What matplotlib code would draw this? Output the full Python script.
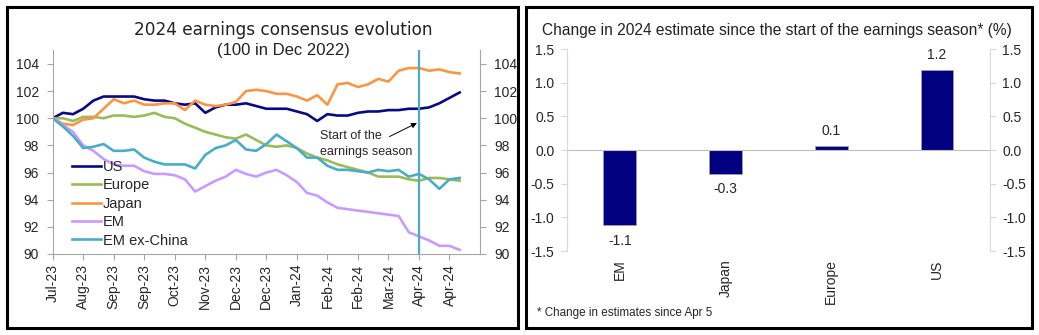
import numpy as np
import matplotlib
matplotlib.use("Agg")
import matplotlib.pyplot as plt
from matplotlib.patches import Rectangle

plt.rcParams['font.family'] = ['Liberation Sans', 'DejaVu Sans']

# weekly index values (100 in Dec 2022)
us = [100.0, 100.4, 100.3, 100.7, 101.3, 101.6, 101.6, 101.6, 101.6, 101.4,
      101.3, 101.3, 101.1, 101.0, 101.1, 100.4, 100.8, 101.0, 101.0, 101.1,
      100.9, 100.7, 100.7, 100.7, 100.5, 100.3, 99.8, 100.3, 100.2, 100.2,
      100.4, 100.5, 100.5, 100.6, 100.6, 100.7, 100.7, 100.8, 101.1, 101.5, 101.9]
europe = [100.0, 100.0, 99.8, 100.1, 100.1, 100.0, 100.2, 100.2, 100.1, 100.2,
          100.4, 100.1, 100.0, 99.6, 99.3, 99.0, 98.8, 98.6, 98.5, 98.8,
          98.4, 98.0, 97.9, 98.0, 97.8, 97.4, 97.1, 96.9, 96.6, 96.4,
          96.2, 96.0, 95.7, 95.7, 95.7, 95.5, 95.4, 95.6, 95.6, 95.5, 95.4]
japan = [100.0, 99.6, 99.5, 99.9, 100.0, 100.7, 101.4, 101.1, 101.3, 101.0,
         101.0, 101.1, 101.1, 100.6, 101.3, 101.0, 100.9, 101.0, 101.2, 102.0,
         102.1, 102.0, 101.8, 101.8, 101.6, 101.3, 101.7, 101.0, 102.5, 102.6,
         102.3, 102.5, 102.9, 102.7, 103.5, 103.7, 103.7, 103.5, 103.6, 103.4, 103.3]
em = [100.0, 99.5, 99.0, 98.0, 97.6, 97.0, 96.6, 96.5, 96.5, 96.1,
      95.9, 95.9, 95.8, 95.5, 94.6, 95.0, 95.4, 95.7, 96.2, 95.9,
      95.7, 96.0, 96.2, 95.8, 95.3, 94.5, 94.3, 93.8, 93.4, 93.3,
      93.2, 93.1, 93.0, 92.9, 92.8, 91.6, 91.3, 91.0, 90.6, 90.6, 90.3]
em_ex_china = [100.0, 99.4, 98.7, 97.8, 97.9, 98.1, 97.6, 97.6, 97.7, 97.1,
               96.8, 96.6, 96.6, 96.6, 96.3, 97.3, 97.8, 98.0, 98.4, 97.7,
               97.6, 98.1, 98.8, 98.3, 97.8, 97.1, 97.1, 96.5, 96.2, 96.2,
               96.1, 96.0, 96.2, 96.1, 96.2, 95.7, 95.9, 95.5, 94.8, 95.5, 95.6]
date_labels = ['Jul-23', 'Aug-23', 'Sep-23', 'Sep-23', 'Oct-23', 'Nov-23', 'Dec-23',
               'Dec-23', 'Jan-24', 'Feb-24', 'Feb-24', 'Mar-24', 'Apr-24', 'Apr-24']
season_start = 36  # week index of Apr 5

# change since start of the season
regions = ['EM', 'Japan', 'Europe', 'US']
change = [-1.12, -0.35, 0.06, 1.19]
change_labels = ['-1.1', '-0.3', '0.1', '1.2']

grey = '#A6A6A6'
txt = '#262626'

fig = plt.figure(figsize=(10.39, 3.35), dpi=100)

# frames round the two panels
fig.patches.append(Rectangle((7/1039, 7/335), 511/1039, 321/335, transform=fig.transFigure,
                             fill=False, edgecolor='black', linewidth=2.2))
fig.patches.append(Rectangle((526/1039, 7/335), 506/1039, 321/335, transform=fig.transFigure,
                             fill=False, edgecolor='black', linewidth=2.2))

# ---- left panel
ax = fig.add_axes([0.0507, 0.2418, 0.4113, 0.6078])
x = np.arange(len(us))
series = [(us, 'US', '#0A0A80'), (europe, 'Europe', '#9BBB59'), (japan, 'Japan', '#F79646'),
          (em, 'EM', '#C99BFF'), (em_ex_china, 'EM ex-China', '#4BACC6')]
for vals, name, col in series:
    ax.plot(x, vals, color=col, linewidth=1.9, label=name)
ax.axvline(season_start, color='#4BACC6', linewidth=1.6)

ax.set_xlim(0, 42)
ax.set_ylim(90, 105)
ax.set_yticks(np.arange(90, 105, 2))
ax.set_xticks(np.arange(0, 3 * len(date_labels), 3))
ax.set_xticklabels(date_labels, rotation=90)
ax.tick_params(axis='y', which='both', left=True, right=True, labelleft=True, labelright=True,
               direction='out', length=4, color=grey, labelsize=10, labelcolor=txt, pad=6)
ax.tick_params(axis='x', direction='out', length=4, color=grey, labelsize=10, labelcolor=txt, pad=3)
ax.spines['top'].set_visible(False)
for s in ['left', 'right', 'bottom']:
    ax.spines[s].set_color(grey)

ax.text(26.3, 98.7, 'Start of the', fontsize=9, color=txt, va='center', ha='left')
ax.text(26.3, 97.5, 'earnings season', fontsize=9, color=txt, va='center', ha='left')
ax.annotate('', xy=(35.8, 99.65), xytext=(33.1, 98.65),
            arrowprops=dict(arrowstyle='-|>', color='black', lw=0.7, mutation_scale=8,
                            shrinkA=0, shrinkB=0))

leg = ax.legend(loc='upper left', bbox_to_anchor=(0.028, 0.497), frameon=False, fontsize=10.5,
                handlelength=2.0, handletextpad=0.1, labelspacing=0.3, borderpad=0)
for t in leg.get_texts():
    t.set_color(txt)

fig.text(283/1039, 1 - 30/335, '2024 earnings consensus evolution', ha='center', va='center',
         fontsize=12.2, color='#222222', family='DejaVu Sans')
fig.text(283/1039, 1 - 50/335, '(100 in Dec 2022)', ha='center', va='center',
         fontsize=12, color='#222222')

# ---- right panel
bx = fig.add_axes([0.5457, 0.2507, 0.4071, 0.603])
pos = np.arange(len(regions))
bars = bx.bar(pos, change, width=0.31, color='#000080', edgecolor='#A0A0A0', linewidth=0.6)
for b, v, lab in zip(bars, change, change_labels):
    if v >= 0:
        bx.text(b.get_x() + b.get_width() / 2, v + 0.12, lab, ha='center', va='bottom',
                fontsize=10, color=txt)
    else:
        bx.text(b.get_x() + b.get_width() / 2, v - 0.12, lab, ha='center', va='top',
                fontsize=10, color=txt)
bx.axhline(0, color='#C0C0C0', linewidth=0.8)
bx.set_xlim(-0.5, 3.5)
bx.set_ylim(-1.5, 1.5)
bx.set_yticks(np.arange(-1.5, 1.51, 0.5))
bx.set_yticklabels([f'{v:.1f}' for v in np.arange(-1.5, 1.51, 0.5)])
bx.set_xticks(pos)
bx.set_xticklabels(regions, rotation=90)
bx.tick_params(axis='x', length=0, labelsize=10, labelcolor=txt, pad=6)
bx.tick_params(axis='y', which='both', left=True, right=True, labelleft=True, labelright=True,
               direction='out', length=4, color='#D9D9D9', labelsize=10, labelcolor=txt, pad=5)
for s in ['top', 'bottom']:
    bx.spines[s].set_visible(False)
for s in ['left', 'right']:
    bx.spines[s].set_color('#D9D9D9')

fig.text(542/1039, 1 - 30/335, 'Change in 2024 estimate since the start of the earnings season* (%)',
         ha='left', va='center', fontsize=11.2, color='#222222')
fig.text(537/1039, 1 - 313/335, '* Change in estimates since Apr 5', ha='left', va='center',
         fontsize=8.4, color=txt)

fig.savefig('out.png', dpi=100)
